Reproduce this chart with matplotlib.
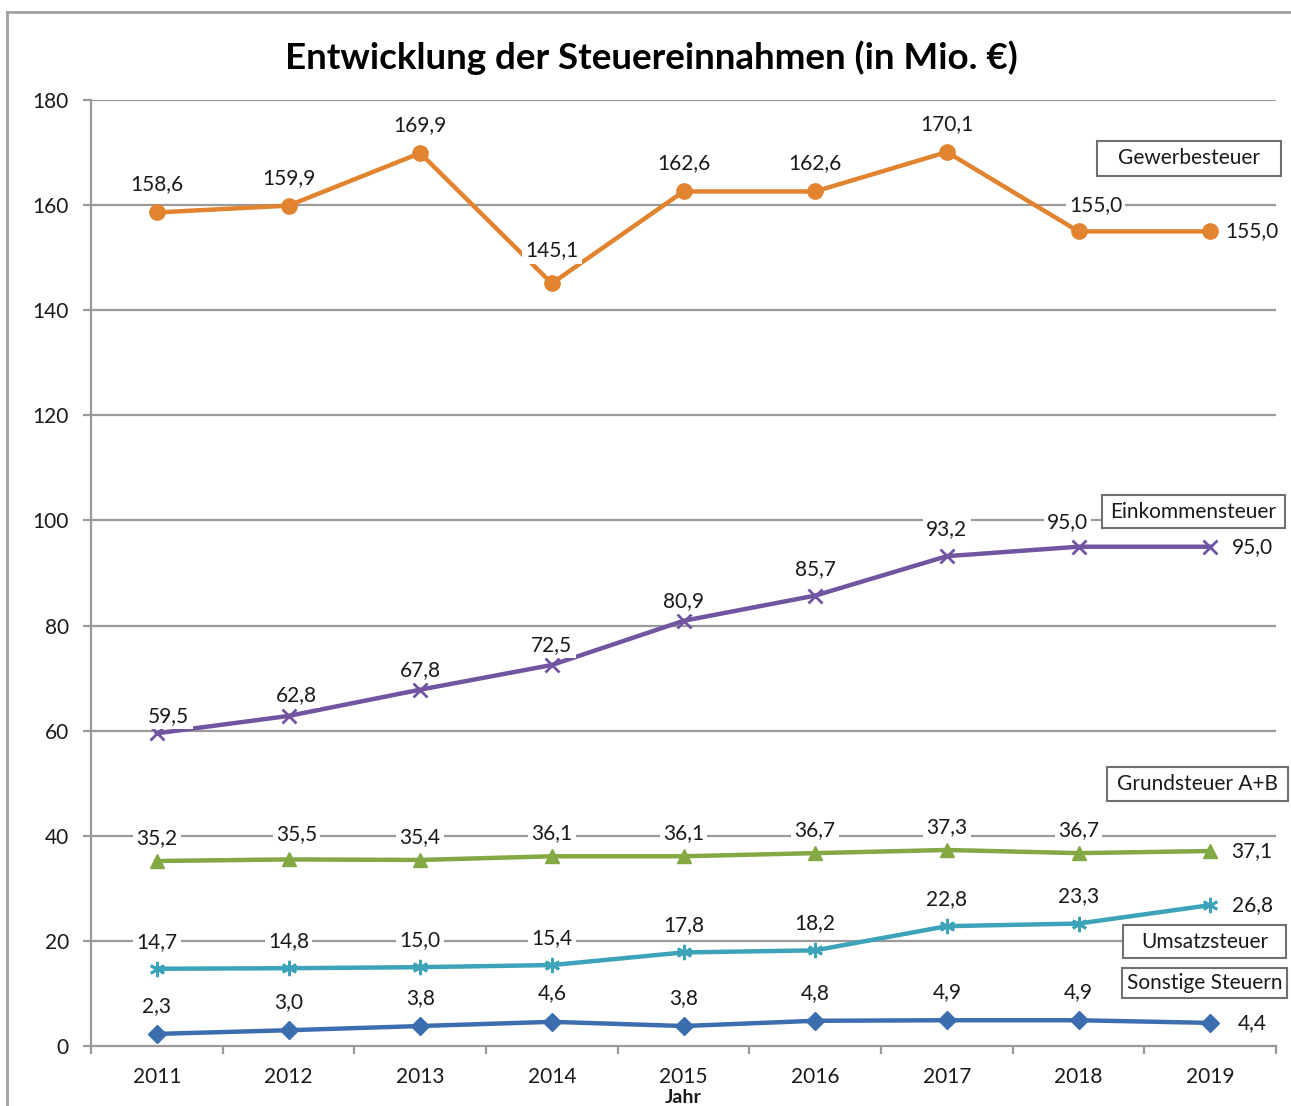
import matplotlib
matplotlib.use("Agg")
import matplotlib.pyplot as plt
from matplotlib.patches import Rectangle
from matplotlib.lines import Line2D

plt.rcParams['font.family'] = ['Lato', 'DejaVu Sans']

years = ['2011', '2012', '2013', '2014', '2015', '2016', '2017', '2018', '2019']
gewerbe = [158.6, 159.9, 169.9, 145.1, 162.6, 162.6, 170.1, 155.0, 155.0]
einkommen = [59.5, 62.8, 67.8, 72.5, 80.9, 85.7, 93.2, 95.0, 95.0]
grund = [35.2, 35.5, 35.4, 36.1, 36.1, 36.7, 37.3, 36.7, 37.1]
umsatz = [14.7, 14.8, 15.0, 15.4, 17.8, 18.2, 22.8, 23.3, 26.8]
sonstige = [2.3, 3.0, 3.8, 4.6, 3.8, 4.8, 4.9, 4.9, 4.4]
names = ['Gewerbesteuer', 'Einkommensteuer', 'Grundsteuer A+B', 'Umsatzsteuer', 'Sonstige Steuern']
yticks = [0, 20, 40, 60, 80, 100, 120, 140, 160, 180]

W, H = 1291, 1106
fig = plt.figure(figsize=(W / 100, H / 100), dpi=100)

def fx(px):
    return px / W

def fy(py):
    return 1 - py / H

ax = fig.add_axes([fx(91), fy(1046), fx(1276) - fx(91), fy(100) - fy(1046)])
ax.set_xlim(-0.5, len(years) - 0.5)
ax.set_ylim(0, 180)

grid_c = '#9a9a9a'
text_c = '#1a1a1a'
for v in yticks[1:]:
    ax.axhline(v, color=grid_c, lw=1.6, zorder=0)
for s in ['top', 'right']:
    ax.spines[s].set_visible(False)
for s in ['left', 'bottom']:
    ax.spines[s].set_color(grid_c)
    ax.spines[s].set_linewidth(1.6)

ax.set_yticks(yticks)
ax.set_yticklabels([str(v) for v in yticks], fontsize=15, color=text_c)
ax.tick_params(axis='y', length=6, width=1.6, color=grid_c, pad=10)
x = list(range(len(years)))
ax.set_xticks(x)
ax.set_xticklabels(years, fontsize=15, color=text_c)
ax.set_xticks([i - 0.5 for i in range(len(years) + 1)], minor=True)
ax.tick_params(axis='x', which='major', length=0, pad=15)
ax.tick_params(axis='x', which='minor', length=6, width=1.6, color=grid_c, direction='out')
ax.text(0.5, -0.045, 'Jahr', transform=ax.transAxes, ha='center', va='top',
        fontsize=14, fontweight='bold', color=text_c)

series = [
    (gewerbe, '#E2832F', 'o', 11),
    (einkommen, '#7155A1', 'x', 10),
    (grund, '#84A843', '^', 10),
    (umsatz, '#3CA3B8', (6, 2, 0), 11),
    (sonstige, '#3C6DAF', 'D', 9),
]

# label offsets in pixels (style)
default_dy = [28, 20, 23, 27, 28]
special = {
    (0, 3): (0, 33),
    (0, 7): (17, 26),
    (1, 0): (12, 17),
    (1, 1): (8, 21),
    (1, 7): (-11, 25),
    (1, 6): (0, 27),
    (1, 5): (0, 27),
    (2, 1): (8, 25),
    (4, 3): (0, 29),
}

for si, (vals, col, mk, ms) in enumerate(series):
    ax.plot(x, vals, color=col, lw=3.2, marker=mk, markersize=ms,
            markeredgewidth=2 if mk in ('x', (6, 2, 0)) else 1,
            markeredgecolor=col, markerfacecolor=col, zorder=3, clip_on=False)
    for i, v in enumerate(vals):
        lbl = f'{v:.1f}'.replace('.', ',')
        if i == len(vals) - 1:
            off = (42, 0)
        else:
            off = special.get((si, i), (0, default_dy[si]))
        ax.annotate(lbl, (i, v), xytext=off, textcoords='offset pixels',
                    ha='center', va='center', fontsize=15, color=text_c, zorder=4,
                    bbox=dict(boxstyle='square,pad=0.15', fc='white', ec='none'))

# series name boxes
boxes = [
    (1097, 141, 1281, 176),
    (1102, 495, 1285, 528),
    (1107, 767, 1288, 801),
    (1123, 925, 1286, 958),
    (1122, 968, 1287, 998),
]
for name, (x0, y0, x1, y1) in zip(names, boxes):
    fig.patches.append(Rectangle((fx(x0), fy(y1)), fx(x1) - fx(x0), fy(y0) - fy(y1),
                                 transform=fig.transFigure, fc='white', ec='#707070',
                                 lw=1.5, zorder=5))
    fig.text(fx((x0 + x1) / 2), fy((y0 + y1) / 2), name, ha='center', va='center',
             fontsize=15, color=text_c, zorder=6)

# outer frame
fig.add_artist(Line2D([fx(7), fx(7)], [fy(12), 0], color='#a0a0a0', lw=2, transform=fig.transFigure))
fig.add_artist(Line2D([fx(7), 1], [fy(12), fy(12)], color='#a0a0a0', lw=2, transform=fig.transFigure))

fig.text(fx(651), fy(58), 'Entwicklung der Steuereinnahmen (in Mio. €)', ha='center', va='center',
         fontsize=26.5, fontweight='bold', color='black')

fig.savefig('out.png', dpi=100)
